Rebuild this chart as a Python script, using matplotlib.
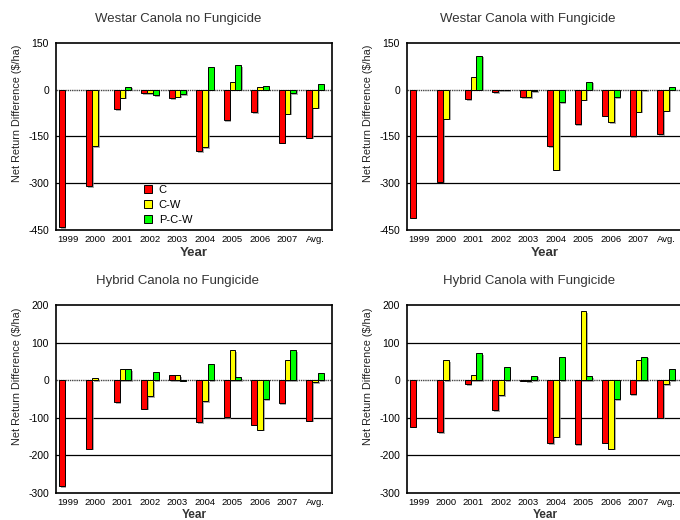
import numpy as np
import matplotlib
matplotlib.use('Agg')
import matplotlib.pyplot as plt
import matplotlib.patheffects as pe
from matplotlib.patches import Patch

plt.rcParams['font.family'] = ['Liberation Sans', 'DejaVu Sans']

years = ['1999', '2000', '2001', '2002', '2003', '2004', '2005', '2006', '2007', 'Avg.']
rotations = ['C', 'C-W', 'P-C-W']
colours = ['#ff0000', '#ffff00', '#00ff00']

# Westar canola, no fungicide
westar_nofung_c = [-440, -310, -63, -11, -26, -197, -97, -71, -170, -154]
westar_nofung_cw = [np.nan, -182, -25, -12, -22, -185, 26, 8, -77, -58]
westar_nofung_pcw = [np.nan, np.nan, 10, -18, -14, 72, 79, 12, -11, 18]

# Westar canola, with fungicide
westar_fung_c = [-410, -295, -30, -7, -23, -180, -110, -83, -148, -143]
westar_fung_cw = [np.nan, -93, 40, -2, -23, -256, -32, -103, -70, -67]
westar_fung_pcw = [np.nan, np.nan, 109, -1, -4, -39, 26, -23, -1, 10]

# Hybrid canola, no fungicide
hybrid_nofung_c = [-281, -182, -59, -76, 13, -112, -99, -118, -61, -108]
hybrid_nofung_cw = [np.nan, 5, 29, -42, 13, -56, 80, -132, 54, -6]
hybrid_nofung_pcw = [np.nan, np.nan, 29, 21, -1, 42, 8, -50, 79, 18]

# Hybrid canola, with fungicide
hybrid_fung_c = [-124, -139, -11, -79, -1, -168, -171, -166, -37, -100]
hybrid_fung_cw = [np.nan, 53, 13, -39, -3, -150, 183, -182, 53, -10]
hybrid_fung_pcw = [np.nan, np.nan, 72, 34, 12, 63, 10, -50, 63, 29]

W, H = 680, 520
fig = plt.figure(figsize=(W / 100, H / 100), dpi=100)


def px(x, y):
    return x / W, 1 - y / H


panels = [
    ('Westar Canola no Fungicide', [westar_nofung_c, westar_nofung_cw, westar_nofung_pcw],
     56, 43, 230, (-450, 150), np.arange(-450, 151, 150), 178),
    ('Westar Canola with Fungicide', [westar_fung_c, westar_fung_cw, westar_fung_pcw],
     407, 43, 230, (-450, 150), np.arange(-450, 151, 150), 528),
    ('Hybrid Canola no Fungicide', [hybrid_nofung_c, hybrid_nofung_cw, hybrid_nofung_pcw],
     56, 305, 493, (-300, 200), np.arange(-300, 201, 100), 178),
    ('Hybrid Canola with Fungicide', [hybrid_fung_c, hybrid_fung_cw, hybrid_fung_pcw],
     407, 305, 493, (-300, 200), np.arange(-300, 201, 100), 529),
]

x = np.arange(len(years))
bw = 0.21
shadow = [pe.SimplePatchShadow(offset=(1.2, -1.2), shadow_rgbFace='#888888', alpha=0.7), pe.Normal()]

axes = []
for k, (title, series, left, top, bottom, ylim, yticks, tx) in enumerate(panels):
    l, b = px(left, bottom)
    ax = fig.add_axes([l, b, 276 / W, (bottom - top) / H])
    axes.append(ax)
    for val in yticks[1:-1]:
        if val == 0:
            ax.axhline(0, color='#444444', lw=1.0, ls=(0, (1, 0.6)), zorder=1)
        else:
            ax.axhline(val, color='black', lw=0.9, zorder=1)
    for j, (vals, col) in enumerate(zip(series, colours)):
        bars = ax.bar(x + (j - 1) * bw, vals, bw, color=col, edgecolor='black',
                      linewidth=0.7, zorder=3, label=rotations[j])
        for bar in bars:
            bar.set_path_effects(shadow)
    ax.set_xlim(-0.42, 9.62)
    ax.set_ylim(*ylim)
    ax.set_yticks(yticks)
    ax.set_yticklabels([str(v) for v in yticks], fontsize=7.5)
    ax.set_xticks(x)
    ax.set_xticklabels(years, fontsize=6.8)
    ax.tick_params(length=0, pad=5)
    ax.tick_params(axis='x', pad=3.5)
    for s in ax.spines.values():
        s.set_linewidth(1.2)
    cx = left + 138
    fig.text(*px(tx, top - 24), title, ha='center', va='center', fontsize=9.5, color='#333333')
    if bottom < 300:
        fig.text(*px(cx, bottom + 23), 'Year', ha='center', va='center', fontsize=9.5,
                 fontweight='bold', color='#333333')
    else:
        fig.text(*px(cx, H - 2), 'Year', ha='center', va='baseline', fontsize=8.5,
                 fontweight='bold', color='#333333')
    fig.text(*px(left - 39, (top + bottom) / 2 - 23), 'Net Return Difference ($/ha)',
             rotation=90, ha='center', va='center', fontsize=7.8, color='#222222')

handles = [Patch(facecolor=c, edgecolor='black', linewidth=0.7) for c in colours]
axes[0].legend(handles, rotations, loc='upper left', bbox_to_anchor=(0.3, 0.27),
               frameon=False, fontsize=8, handlelength=0.7, handleheight=0.7,
               handletextpad=0.6, labelspacing=0.45, borderpad=0)

fig.savefig('out.png', dpi=100)
